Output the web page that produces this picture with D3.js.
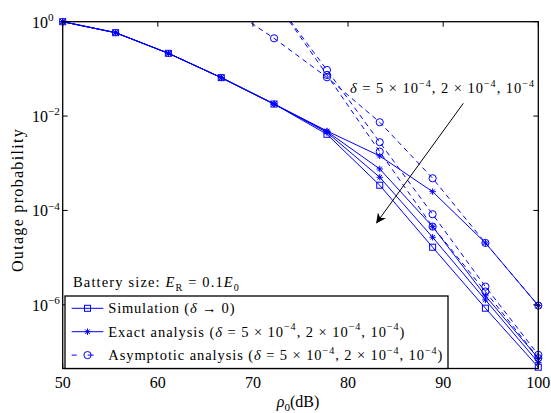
<!DOCTYPE html>
<html><head><meta charset="utf-8">
<script src="https://cdn.jsdelivr.net/npm/d3@7"></script>
<style>body{margin:0;background:#fff}svg{display:block}</style>
</head><body><svg id="c" width="551" height="413"></svg>
<script>
const rho = [50, 55.56, 61.11, 66.67, 72.22, 77.78, 83.33, 88.89, 94.44, 100];
const simulation = [1, 0.585, 0.214, 0.0652, 0.0180, 4.11e-3, 3.42e-4, 1.66e-5, 8.47e-7, 4.76e-8];
const exact5 = [1, 0.585, 0.214, 0.0652, 0.0180, 4.83e-3, 1.43e-3, 2.50e-4, 2.05e-5, 9.62e-7];
const exact2 = [1, 0.585, 0.214, 0.0652, 0.0180, 4.72e-3, 7.57e-4, 4.54e-5, 1.55e-6, 7.31e-8];
const exact1 = [1, 0.585, 0.214, 0.0652, 0.0180, 4.50e-3, 5.05e-4, 2.70e-5, 1.27e-6, 5.96e-8];
const asym5 = [null, null, null, 2.5, 0.445, 0.0664, 7.40e-3, 4.81e-4, 2.05e-5, 9.62e-7];
const asym2 = [null, null, null, null, 3.0, 0.0948, 2.79e-3, 8.30e-5, 2.43e-6, 8.69e-8];
const asym1 = [null, null, null, null, 3.0, 0.0743, 1.76e-3, 4.54e-5, 1.91e-6, 7.40e-8];
const xTicks = [50, 60, 70, 80, 90, 100];
const yTickExp = [0, -2, -4, -6];
const yMinExp = -7.35;

const blue = "#0000ff";
const svg = d3.select("#c");
const L = 62.7, R = 538.3, T = 21.7, B = 368.5;
const x = d3.scaleLinear().domain([50, 100]).range([L, R]);
const y = d3.scaleLog().domain([Math.pow(10, yMinExp), 1]).range([B, T]);
const font = "'Liberation Serif', 'Times New Roman', serif";

svg.append("defs").append("clipPath").attr("id", "clip")
  .append("rect").attr("x", L).attr("y", T).attr("width", R - L).attr("height", B - T);

// rich text helper
function rich(sel, parts, size) {
  let off = 0;
  parts.forEach(([t, k]) => {
    const ts = sel.append("tspan").text(t);
    let target = 0;
    if (k === "sup") { target = -size * 0.42; ts.attr("font-size", size * 0.7); }
    else if (k === "sub") { target = size * 0.25; ts.attr("font-size", size * 0.7); }
    if (k === "i") ts.attr("font-style", "italic");
    if (target !== off) { ts.attr("dy", target - off); off = target; }
  });
}
// widen a text to a target width with letter spacing (Computer Modern is wider than Times)
function fit(sel, target) {
  const node = sel.node();
  const w = node.getComputedTextLength();
  const n = node.textContent.length;
  if (n > 1 && w < target) sel.attr("letter-spacing", ((target - w) / n).toFixed(3));
}

// series
const series = [
  { v: simulation, dash: null, mk: "sq" },
  { v: exact5, dash: null, mk: "ast" },
  { v: exact2, dash: null, mk: "ast" },
  { v: exact1, dash: null, mk: "ast" },
  { v: asym5, dash: "5,4", mk: "circ" },
  { v: asym2, dash: "5,4", mk: "circ" },
  { v: asym1, dash: "5,4", mk: "circ" }
];
const line = d3.line().defined(d => d[1] != null).x(d => x(d[0])).y(d => y(d[1]));
const gLines = svg.append("g").attr("clip-path", "url(#clip)");
const gMarks = svg.append("g");

function marker(g, type, cx, cy) {
  if (type === "sq") {
    g.append("rect").attr("x", cx - 3).attr("y", cy - 3).attr("width", 6).attr("height", 6)
      .attr("fill", "none").attr("stroke", blue).attr("stroke-width", 1);
  } else if (type === "circ") {
    g.append("circle").attr("cx", cx).attr("cy", cy).attr("r", 3.6)
      .attr("fill", "none").attr("stroke", blue).attr("stroke-width", 1);
  } else {
    const s = 3.2, d = 2.3;
    const p = `M${cx - s},${cy}L${cx + s},${cy}M${cx},${cy - s}L${cx},${cy + s}M${cx - d},${cy - d}L${cx + d},${cy + d}M${cx - d},${cy + d}L${cx + d},${cy - d}`;
    g.append("path").attr("d", p).attr("stroke", blue).attr("stroke-width", 1).attr("fill", "none");
  }
}

series.forEach(s => {
  const pts = rho.map((r, i) => [r, s.v[i]]);
  gLines.append("path").attr("d", line(pts)).attr("fill", "none").attr("stroke", blue)
    .attr("stroke-width", 1).attr("stroke-dasharray", s.dash);
  pts.forEach(p => {
    if (p[1] == null || p[1] > 1.0001) return;
    marker(gMarks, s.mk, x(p[0]), y(p[1]));
  });
});

// frame and ticks
const frame = svg.append("g");
frame.append("rect").attr("x", L).attr("y", T).attr("width", R - L).attr("height", B - T)
  .attr("fill", "none").attr("stroke", "#000").attr("stroke-width", 1.3);
xTicks.forEach(t => {
  const px = x(t);
  frame.append("line").attr("x1", px).attr("x2", px).attr("y1", B).attr("y2", B - 5).attr("stroke", "#000");
  frame.append("line").attr("x1", px).attr("x2", px).attr("y1", T).attr("y2", T + 5).attr("stroke", "#000");
  svg.append("text").attr("x", px).attr("y", 388).attr("text-anchor", "middle")
    .attr("font-family", font).attr("font-size", 16).text(t);
});
yTickExp.forEach(e => {
  const py = y(Math.pow(10, e));
  frame.append("line").attr("x1", L).attr("x2", L + 5).attr("y1", py).attr("y2", py).attr("stroke", "#000");
  frame.append("line").attr("x1", R).attr("x2", R - 5).attr("y1", py).attr("y2", py).attr("stroke", "#000");
  const t = svg.append("text").attr("x", 32).attr("y", py + 6)
    .attr("font-family", font).attr("font-size", 16);
  rich(t, [["10", "n"], [e === 0 ? "0" : "\u2212" + (-e), "sup"]], 16);
});

// axis labels
const xl = svg.append("text").attr("x", 298).attr("y", 407).attr("text-anchor", "middle")
  .attr("font-family", font).attr("font-size", 16);
rich(xl, [["\u03c1", "i"], ["0", "sub"], ["(dB)", "n"]], 16);
const yl = svg.append("text").attr("transform", "translate(23,200) rotate(-90)").attr("text-anchor", "middle")
  .attr("font-family", font).attr("font-size", 16).text("Outage probability");
fit(yl, 144);

// annotation
const ann = svg.append("text").attr("x", 350).attr("y", 93)
  .attr("font-family", font).attr("font-size", 14.5);
rich(ann, [["\u03b4", "i"], [" = 5 \u00d7 10", "n"], ["\u22124", "sup"], [", 2 \u00d7 10", "n"], ["\u22124", "sup"], [", 10", "n"], ["\u22124", "sup"]], 14.5);
fit(ann, 185);
svg.append("defs").append("marker").attr("id", "arr").attr("viewBox", "0 0 10 10")
  .attr("refX", 9).attr("refY", 5).attr("markerWidth", 10).attr("markerHeight", 10)
  .attr("markerUnits", "userSpaceOnUse").attr("orient", "auto")
  .append("path").attr("d", "M0,0L10,5L0,10L3,5Z").attr("fill", "#000");
svg.append("line").attr("x1", 463.3).attr("y1", 103.3).attr("x2", 376.7).attr("y2", 222.7)
  .attr("stroke", "#000").attr("stroke-width", 1).attr("marker-end", "url(#arr)");

// battery text
const bt = svg.append("text").attr("x", 73).attr("y", 287)
  .attr("font-family", font).attr("font-size", 14.5);
rich(bt, [["Battery size: ", "n"], ["E", "i"], ["R", "sub"], [" = 0.1", "n"], ["E", "i"], ["0", "sub"]], 14.5);
fit(bt, 167);

// legend
const lg = svg.append("g");
lg.append("rect").attr("x", 65).attr("y", 296).attr("width", 383).attr("height", 72.5)
  .attr("fill", "#fff").attr("stroke", "#000").attr("stroke-width", 1.3);
const legItems = [
  { mk: "sq", dash: null, w: 127, parts: [["Simulation (", "n"], ["\u03b4", "i"], [" \u2192 0)", "n"]] },
  { mk: "ast", dash: null, w: 297, parts: [["Exact analysis (", "n"], ["\u03b4", "i"], [" = 5 \u00d7 10", "n"], ["\u22124", "sup"], [", 2 \u00d7 10", "n"], ["\u22124", "sup"], [", 10", "n"], ["\u22124", "sup"], [")", "n"]] },
  { mk: "circ", dash: "5,4", w: 335, parts: [["Asymptotic analysis (", "n"], ["\u03b4", "i"], [" = 5 \u00d7 10", "n"], ["\u22124", "sup"], [", 2 \u00d7 10", "n"], ["\u22124", "sup"], [", 10", "n"], ["\u22124", "sup"], [")", "n"]] }
];
legItems.forEach((it, i) => {
  const cy = 308.3 + i * 23.4;
  lg.append("line").attr("x1", 71.7).attr("x2", 103.3).attr("y1", cy).attr("y2", cy)
    .attr("stroke", blue).attr("stroke-width", 1).attr("stroke-dasharray", it.dash ? "6,11" : null)
    .attr("stroke-dashoffset", it.dash ? 1 : null);
  marker(lg, it.mk, 87.5, cy);
  const t = lg.append("text").attr("x", 108.3).attr("y", cy + 4.8)
    .attr("font-family", font).attr("font-size", 14.5);
  rich(t, it.parts, 14.5);
  fit(t, it.w);
});
</script></body></html>
